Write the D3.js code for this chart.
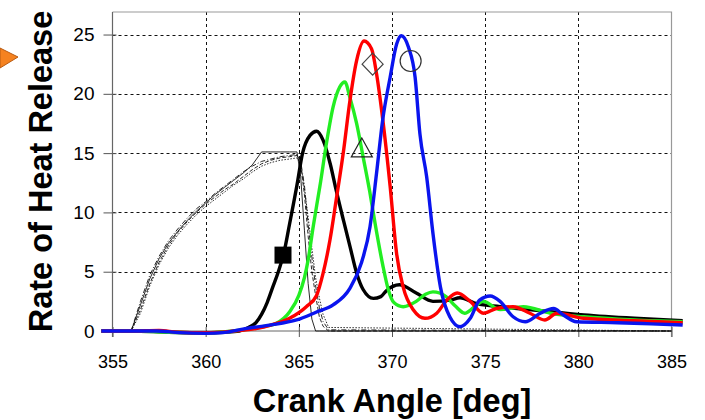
<!DOCTYPE html>
<html>
<head>
<meta charset="utf-8">
<script src="https://cdn.jsdelivr.net/npm/d3@7/dist/d3.min.js"></script>
<style>
    body { margin: 0; background: #fff; }
    svg { display: block; font-family: Arial, "Liberation Sans", sans-serif; }
</style>
</head>
<body>
<script>
// tick labels
const xTicks = [355, 360, 365, 370, 375, 380, 385],
    yTicks = [0, 5, 10, 15, 20, 25];

// thin injection-like traces share one angle grid
const dashAngle = [356.0, 356.5, 357.0, 357.5, 358.0, 358.5, 359.0, 359.5, 360.0, 360.5, 361.0, 361.5, 362.0, 362.5, 363.0, 363.5, 364.0, 364.5, 364.9, 365.1, 365.3, 365.5, 365.7, 365.9, 366.1, 366.3, 366.6, 385.0];
const solidTrace = [0, 2.2, 4.4, 6.1, 7.4, 8.4, 9.3, 10.1, 10.8, 11.5, 12.1, 12.7, 13.3, 14.0, 15.1, 15.1, 15.1, 15.1, 15.1, 13.0, 8.5, 4.0, 1.0, 0, 0, 0, 0, 0];
const dashTrace = [0, 1.8, 4.0, 5.8, 7.2, 8.3, 9.2, 10.0, 10.7, 11.3, 11.9, 12.4, 13.0, 13.6, 14.1, 14.4, 14.6, 14.7, 14.8, 14.0, 11.5, 8.0, 5.0, 3.0, 1.2, 0.4, 0, 0];
const dashDotTrace = [0, 2.5, 4.7, 6.3, 7.6, 8.6, 9.5, 10.3, 10.9, 11.6, 12.2, 12.8, 13.4, 13.9, 14.3, 14.5, 14.7, 14.8, 14.9, 14.3, 12.3, 9.0, 6.2, 3.8, 2.0, 0.8, 0.1, 0];
const dotTrace = [0, 1.5, 3.8, 5.6, 7.0, 8.1, 9.0, 9.8, 10.5, 11.1, 11.7, 12.3, 12.8, 13.4, 13.9, 14.2, 14.4, 14.5, 14.6, 14.1, 12.0, 9.6, 7.0, 4.5, 2.8, 1.4, 0.3, 0];

// heat release curves: [crank angle, rate]
const blackHRR = [[354.4,0],[356,0],[358,-0.1],[360,-0.15],[361,-0.1],[361.8,0],[362.3,0.3],[362.7,0.7],[363.0,1.4],[363.3,2.4],[363.6,3.7],[363.9,5.0],[364.2,6.6],[364.5,9.0],[364.9,12.3],[365.2,15.0],[365.6,16.5],[365.95,16.85],[366.3,16.1],[366.7,14.0],[367.0,11.9],[367.4,9.3],[367.75,7.1],[368.1,4.9],[368.45,3.5],[369.0,2.75],[369.4,2.9],[369.7,3.4],[370.4,3.9],[371.3,3.2],[372.2,2.5],[373.1,2.6],[373.65,2.8],[374.55,2.3],[375.8,2.05],[377.6,1.77],[380.3,1.35],[383.0,1.07],[385.6,0.87]];
const greenHRR = [[354.4,0],[356,0],[358,-0.1],[360,-0.15],[361.5,0],[362.5,0.2],[363.2,0.4],[363.8,0.65],[364.5,1.6],[365.0,3.0],[365.3,4.5],[365.5,6.0],[365.77,8.8],[366.13,12.2],[366.5,16.0],[366.84,18.9],[367.2,20.6],[367.47,21.0],[367.74,19.7],[368.1,17.5],[368.46,14.6],[368.8,11.8],[369.1,9.0],[369.5,5.6],[369.8,3.5],[370.1,2.4],[370.6,2.05],[371.3,2.5],[371.8,3.1],[372.2,3.3],[372.9,2.9],[373.4,2.1],[373.9,1.5],[374.4,2.0],[374.9,2.5],[375.8,1.8],[377.05,2.05],[378.5,1.5],[380.3,1.2],[383.0,0.93],[385.6,0.78]];
const redHRR = [[354.4,0],[356,0],[357.5,0.05],[358.5,-0.1],[360,-0.15],[361.5,0],[362.7,0.2],[363.5,0.5],[364.5,1.07],[365.4,2.05],[365.95,3.0],[366.3,4.86],[366.67,7.67],[367.0,11.0],[367.4,15.2],[367.74,19.4],[368.1,22.8],[368.5,24.45],[368.9,23.8],[369.17,21.7],[369.5,17.9],[369.9,12.2],[370.25,6.5],[370.6,3.7],[371.15,1.77],[371.77,1.07],[372.4,1.5],[372.94,2.6],[373.5,3.2],[374.2,2.5],[374.9,1.5],[375.6,1.9],[376.5,2.05],[377.4,1.5],[378.2,0.93],[378.85,1.5],[380.3,1.07],[383.0,0.87],[385.6,0.7]];
const blueHRR = [[354.4,0],[357.35,0],[358.6,-0.14],[360,-0.2],[360.9,-0.14],[362.2,0.22],[363.44,0.5],[364.88,0.93],[365.95,1.6],[366.84,2.2],[367.74,3.6],[368.37,5.8],[368.82,8.8],[369.17,13.3],[369.5,17.8],[369.9,21.4],[370.25,24.2],[370.5,24.9],[370.88,23.95],[371.24,21.4],[371.5,16.6],[371.86,13.0],[372.2,8.2],[372.6,3.7],[373.1,1.2],[373.65,0.36],[374.2,1.07],[374.7,2.6],[375.27,2.95],[375.8,2.5],[376.5,1.2],[377.15,0.78],[377.96,1.5],[378.67,1.9],[379.2,1.35],[379.9,0.78],[382.1,0.7],[383.9,0.6],[385.6,0.5]];

// marker symbols: [angle, rate]
const squareAt = [364.15, 6.4],
    triangleAt = [368.38, 15.35],
    diamondAt = [368.96, 22.5],
    circleAt = [371.0, 22.77];

const outerW = 705,
    outerH = 420;

const x = d3.scaleLinear().domain([355, 385]).range([112.5, 671.5]);
const y = d3.scaleLinear().domain([0, 26.9]).range([331, 12]);

const svg = d3.select('body').append('svg')
    .attr('width', outerW)
    .attr('height', outerH);

svg.append('rect')
    .attr('width', outerW)
    .attr('height', outerH)
    .attr('fill', '#fff');

// orange pointer at the far left
svg.append('path')
    .attr('d', 'M0,48 L18,57 L0,68 Z')
    .attr('fill', '#f58220')
    .attr('stroke', '#b85a10')
    .attr('stroke-width', 1);

// grid
const grid = svg.append('g').attr('class', 'grid')
    .attr('stroke', '#111')
    .attr('stroke-width', 1)
    .attr('stroke-dasharray', '3,3');

grid.selectAll('.vline')
    .data(xTicks.slice(1, -1))
    .enter()
    .append('line')
    .attr('x1', d => Math.round(x(d)) + 0.5)
    .attr('x2', d => Math.round(x(d)) + 0.5)
    .attr('y1', y.range()[1])
    .attr('y2', y(0));

grid.selectAll('.hline')
    .data(yTicks.slice(1))
    .enter()
    .append('line')
    .attr('x1', x(355))
    .attr('x2', x(385))
    .attr('y1', d => Math.round(y(d)) + 0.5)
    .attr('y2', d => Math.round(y(d)) + 0.5);

// frame top + right
svg.append('path')
    .attr('d', `M${x(355)},${y.range()[1]}H${x(385)}V${y(0) + 6}`)
    .attr('fill', 'none')
    .attr('stroke', '#999')
    .attr('stroke-width', 1.2);

// axes
const yAxis = svg.append('g')
    .attr('transform', `translate(${x(355)},0)`)
    .call(d3.axisLeft(y)
        .tickValues(yTicks)
        .tickSize(9)
        .tickSizeOuter(0)
        .tickPadding(9)
    );
yAxis.selectAll('.tick line').attr('x1', 4);

const xAxis = svg.append('g')
    .attr('transform', `translate(0,${y(0)})`)
    .call(d3.axisBottom(x)
        .tickValues(xTicks)
        .tickSize(6)
        .tickSizeOuter(0)
        .tickPadding(18)
    );
xAxis.selectAll('.tick line').attr('y1', -4);

svg.selectAll('.domain').remove();
svg.append('line')
    .attr('x1', x(355)).attr('x2', x(355))
    .attr('y1', y.range()[1]).attr('y2', y(0) + 6)
    .attr('stroke', '#666')
    .attr('stroke-width', 1.2);
svg.append('line')
    .attr('x1', x(355)).attr('x2', x(385))
    .attr('y1', y(0)).attr('y2', y(0))
    .attr('stroke', '#666');

svg.selectAll('.tick line').attr('stroke', '#555');
yAxis.selectAll('.tick text').attr('font-size', 19).attr('fill', '#000');
xAxis.selectAll('.tick text').attr('font-size', 18).attr('fill', '#000').attr('dy', '0.71em');

// thin traces
const thinLine = d3.line()
    .x((d, i) => x(dashAngle[i]))
    .y(d => y(d));

const thin = [
    { vals: solidTrace, dash: null },
    { vals: dashTrace, dash: '4,2' },
    { vals: dashDotTrace, dash: '5,2,1,2' },
    { vals: dotTrace, dash: '1.5,1.5' }
];

svg.append('g').selectAll('path')
    .data(thin)
    .enter()
    .append('path')
    .attr('d', d => thinLine(d.vals))
    .attr('fill', 'none')
    .attr('stroke', '#111')
    .attr('stroke-width', 0.9)
    .attr('stroke-dasharray', d => d.dash);

// heat release curves
const hrrLine = d3.line()
    .x(d => x(d[0]))
    .y(d => y(d[1]))
    .curve(d3.curveMonotoneX);

const curves = [
    { vals: blackHRR, color: '#000' },
    { vals: greenHRR, color: '#22ee22' },
    { vals: redHRR, color: '#ff0000' },
    { vals: blueHRR, color: '#0a14ee' }
];

svg.append('g').selectAll('path')
    .data(curves)
    .enter()
    .append('path')
    .attr('d', d => hrrLine(d.vals))
    .attr('fill', 'none')
    .attr('stroke', d => d.color)
    .attr('stroke-width', 3.4)
    .attr('stroke-linejoin', 'round');

// markers
svg.append('rect')
    .attr('x', x(squareAt[0]) - 8.5)
    .attr('y', y(squareAt[1]) - 8.5)
    .attr('width', 17)
    .attr('height', 17)
    .attr('fill', '#000');

const tx = x(triangleAt[0]), ty = y(triangleAt[1]);
svg.append('path')
    .attr('d', `M${tx},${ty - 11}L${tx + 10.5},${ty + 8}L${tx - 10.5},${ty + 8}Z`)
    .attr('fill', 'none')
    .attr('stroke', '#222')
    .attr('stroke-width', 1.2);

const dx = x(diamondAt[0]), dy = y(diamondAt[1]);
svg.append('path')
    .attr('d', `M${dx},${dy - 11}L${dx + 10.5},${dy}L${dx},${dy + 11}L${dx - 10.5},${dy}Z`)
    .attr('fill', 'none')
    .attr('stroke', '#444')
    .attr('stroke-width', 1.2);

svg.append('circle')
    .attr('cx', x(circleAt[0]))
    .attr('cy', y(circleAt[1]))
    .attr('r', 10.5)
    .attr('fill', 'none')
    .attr('stroke', '#333')
    .attr('stroke-width', 1.2);

// titles
svg.append('text')
    .attr('transform', 'translate(52,171.5) rotate(-90)')
    .attr('text-anchor', 'middle')
    .attr('font-size', 32.5)
    .attr('font-weight', 'bold')
    .text('Rate of Heat Release');

svg.append('text')
    .attr('x', 392)
    .attr('y', 412)
    .attr('text-anchor', 'middle')
    .attr('font-size', 32.5)
    .attr('font-weight', 'bold')
    .text('Crank Angle [deg]');
</script>
</body>
</html>
